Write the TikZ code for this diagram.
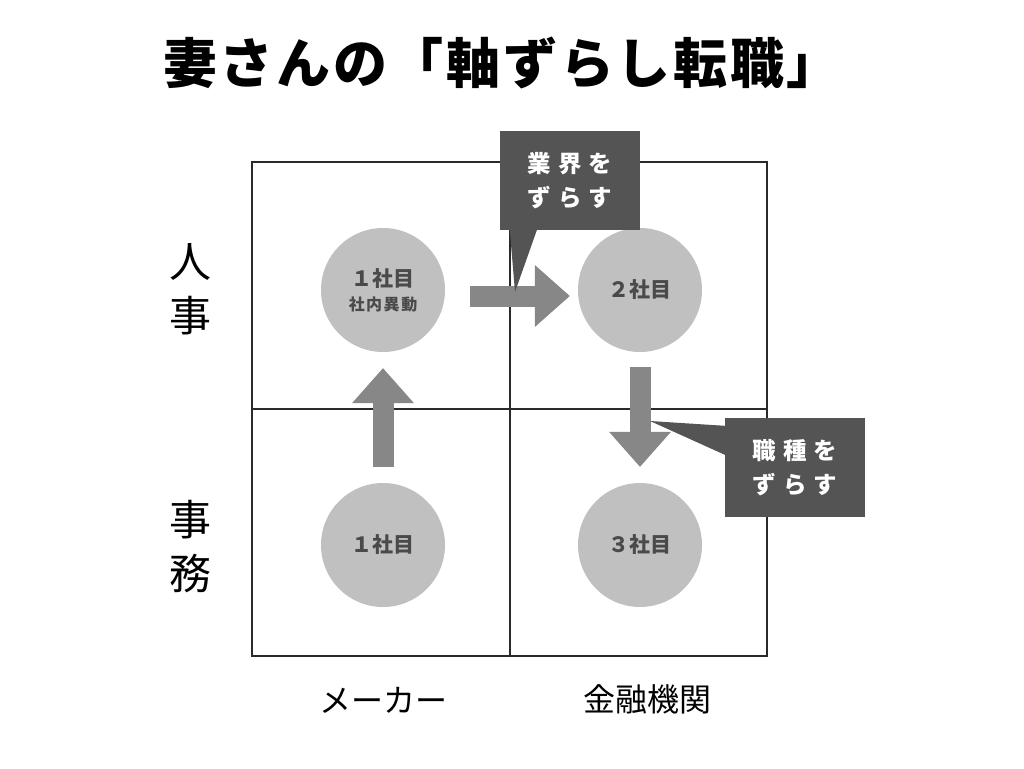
\documentclass[tikz,border=0pt]{standalone}
\usepackage{fontspec}
\setmainfont{Noto Sans CJK JP}
\usetikzlibrary{arrows.meta,calc}
\definecolor{gridc}{HTML}{2A2A2A}
\definecolor{bubblec}{HTML}{C0C0C0}
\definecolor{bubbletext}{HTML}{4A4A4A}
\definecolor{arrowc}{HTML}{878787}
\definecolor{calloutc}{HTML}{545454}
\newcommand{\tsp}{\hspace{2.7pt}}
\tikzset{
  gridline/.style={draw=gridc, line width=2pt},
  bubble/.style={circle, fill=bubblec, minimum size=124pt, inner sep=0pt, text=bubbletext, align=center,
    font=\bfseries\fontsize{21}{26}\selectfont},
  fat/.style={draw=arrowc, line width=21pt, -{Triangle[length=35pt,width=62pt,line width=0pt]}},
  callout/.style={fill=calloutc, text=white, minimum width=140pt, minimum height=99pt, inner sep=0pt,
    align=center, font=\bfseries\fontsize{23.5}{34}\selectfont},
  sidelabel/.style={align=center, inner sep=0pt, font=\fontsize{42}{54}\selectfont},
  bottomlabel/.style={inner sep=0pt, font=\fontsize{32}{36}\selectfont}
}
\begin{document}
\begin{tikzpicture}[x=1pt,y=-1pt]
\useasboundingbox (0,0) rectangle (1024,768);
\fill[white] (0,0) rectangle (1024,768);
% title
\node[font=\bfseries\fontsize{54}{60}\selectfont, inner sep=0pt] (title) at (502,63) {妻\tsp さ\tsp ん\tsp の\tsp「\tsp 軸\tsp ず\tsp ら\tsp し\tsp 転\tsp 職\tsp」};
% grid
\node[gridline, minimum width=515pt, minimum height=494pt, inner sep=0pt] (frame) at (509.5,409) {};
\draw[gridline] (frame.north) -- (frame.south);
\draw[gridline] (frame.west) -- (frame.east);
% circles
\node[bubble] (c1) at (383,290) {１社目\\[-2pt]{\fontsize{16}{20}\selectfont 社\hspace{1.5pt}内\hspace{1.5pt}異\hspace{1.5pt}動}};
\node[bubble] (c2) at (640,290) {２社目};
\node[bubble] (c3) at (383,545) {１社目};
\node[bubble] (c4) at (640,545) {３社目};
% arrows
\draw[fat] ($(c1.east)+(25,6)$) -- ($(c2.west)+(-8,6)$);
\draw[fat] ($(c3.north)+(0,-16)$) -- ($(c1.south)+(0,16)$);
\draw[fat] ($(c2.south)+(0,15)$) -- ($(c4.north)+(0,-16)$);
% callouts
\coordinate (tip1) at (515,292);
\coordinate (tip2) at (650,421);
\node[callout] (k1) at (570,180.5) {業\hspace{7pt}界\hspace{7pt}を\\ず\hspace{7pt}ら\hspace{7pt}す};
\fill[calloutc] ($(k1.south west)+(10,0)$) -- ($(k1.south west)+(37,0)$) -- (tip1) -- cycle;
\node[callout] (k2) at (795,467.5) {職\hspace{7pt}種\hspace{7pt}を\\ず\hspace{7pt}ら\hspace{7pt}す};
\fill[calloutc] ($(k2.north west)+(0,8)$) -- ($(k2.north west)+(0,37)$) -- (tip2) -- cycle;
% side labels
\node[sidelabel] (l1) at (190,289) {人\\事};
\node[sidelabel] (l2) at (190,547) {事\\務};
% bottom labels
\node[bottomlabel] (b1) at (383,700) {メーカー};
\node[bottomlabel] (b2) at (647,699) {金融機関};
\end{tikzpicture}
\end{document}
